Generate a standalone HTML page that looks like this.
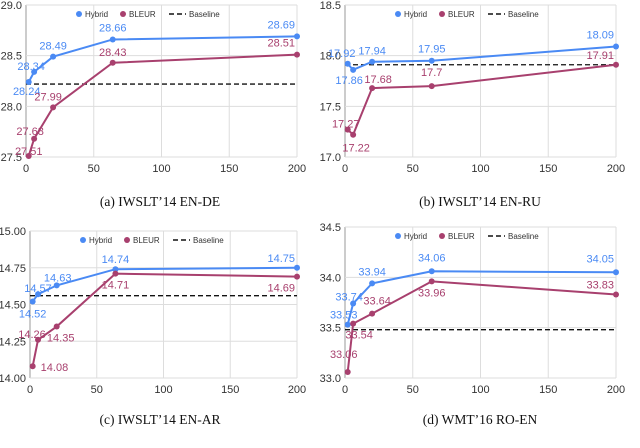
<!DOCTYPE html>
<html><head><meta charset="utf-8"><style>
body{margin:0;background:#fff;}
svg{display:block;font-family:"Liberation Sans",sans-serif;}
.cap{font-family:"Liberation Serif",serif;font-size:13.5px;fill:#111;}
</style></head><body>
<svg id="chart" width="640" height="448" viewBox="0 0 640 448"></svg>
<script>
const xValues=[2,6,20,64,200];
const xTicks=[0,50,100,150,200];
const panelTitles=["(a) IWSLT’14 EN-DE","(b) IWSLT’14 EN-RU","(c) IWSLT’14 EN-AR","(d) WMT’16 RO-EN"];
const hybridA=[28.24,28.34,28.49,28.66,28.69];
const bleurA=[27.51,27.68,27.99,28.43,28.51];
const baselineA=28.22;
const yTicksA=[27.5,28.0,28.5,29.0];
const hybridB=[17.92,17.86,17.94,17.95,18.09];
const bleurB=[17.27,17.22,17.68,17.7,17.91];
const baselineB=17.91;
const yTicksB=[17.0,17.5,18.0,18.5];
const hybridC=[14.52,14.57,14.63,14.74,14.75];
const bleurC=[14.08,14.26,14.35,14.71,14.69];
const baselineC=14.56;
const yTicksC=[14.0,14.25,14.5,14.75,15.0];
const hybridD=[33.53,33.74,33.94,34.06,34.05];
const bleurD=[33.06,33.54,33.64,33.96,33.83];
const baselineD=33.48;
const yTicksD=[33.0,33.5,34.0,34.5];
const yLabelsA=["27.5","28.0","28.5","29.0"];
const yLabelsB=["17.0","17.5","18.0","18.5"];
const yLabelsC=["14.00","14.25","14.50","14.75","15.00"];
const yLabelsD=["33.0","33.5","34.0","34.5"];

const svg=document.getElementById('chart');
const NS="http://www.w3.org/2000/svg";
function mk(tag,attrs,parent,name){const e=document.createElementNS(NS,tag);for(const k in attrs)e.setAttribute(k,attrs[k]);


parent.appendChild(e);return e;}
const BLUE="#4a8af4",RED="#a8406e";
const hOff=[
 [[-2,13,'middle'],[-3,-2,'middle'],[0,-7,'middle'],[0,-8,'middle'],[-2,-8,'end']],
 [[-6,-7,'middle'],[-4,14,'middle'],[0,-7,'middle'],[0,-8,'middle'],[-2,-8,'end']],
 [[0,16,'middle'],[0,-2,'middle'],[1,-4,'middle'],[0,-6,'middle'],[-2,-6,'end']],
 [[-4,-6,'middle'],[-4,-3,'middle'],[0,-8,'middle'],[0,-10,'middle'],[-2,-10,'end']]];
const bOff=[
 [[0,-1,'middle'],[-4,-4,'middle'],[-5,-7,'middle'],[0,-7,'middle'],[-2,-8,'end']],
 [[-2,-2,'middle'],[3,17,'middle'],[6,-5,'middle'],[0,-10,'middle'],[-2,-6,'end']],
 [[8,5,'start'],[-6,-2,'middle'],[4,15,'middle'],[0,15,'middle'],[-2,15,'end']],
 [[-4,-14,'middle'],[6,15,'middle'],[5,-9,'middle'],[0,15,'middle'],[-2,-6,'end']]];
const panels=[
 {ox:0,oy:0,L:26,R:297,T:5,B:157,h:hybridA,b:bleurA,base:baselineA,yt:yTicksA,yl:yLabelsA,ymin:27.5,ymax:29.0,capY:206},
 {ox:320,oy:0,L:25,R:296,T:5,B:157,h:hybridB,b:bleurB,base:baselineB,yt:yTicksB,yl:yLabelsB,ymin:17.0,ymax:18.5,capY:206},
 {ox:0,oy:224,L:30,R:297,T:7,B:154,h:hybridC,b:bleurC,base:baselineC,yt:yTicksC,yl:yLabelsC,ymin:14.0,ymax:15.0,capY:200},
 {ox:320,oy:224,L:25,R:296,T:3,B:154,h:hybridD,b:bleurD,base:baselineD,yt:yTicksD,yl:yLabelsD,ymin:33.0,ymax:34.5,capY:200}];
panels.forEach((p,i)=>{
 const g=mk('g',{transform:`translate(${p.ox},${p.oy})`},svg,'panel-'+i);
 const xs=v=>p.L+(v-0)/(200-0)*(p.R-p.L);
 const ys=v=>p.B-(v-p.ymin)/(p.ymax-p.ymin)*(p.B-p.T);
 xTicks.forEach(t=>{mk('line',{x1:xs(t),x2:xs(t),y1:p.T,y2:p.B,stroke:t==0?'#999':'#ddd','stroke-width':1},g,'x-grid');
  const tx=mk('text',{x:xs(t),y:p.B+15,'text-anchor':'middle','font-size':11,fill:'#333'},g,'x-tick-label');tx.textContent=t;});
 p.yt.forEach((t,j)=>{mk('line',{x1:p.L,x2:p.R,y1:ys(t),y2:ys(t),stroke:'#ddd','stroke-width':1},g,'y-grid');
  const tx=mk('text',{x:p.L-4,y:ys(t)+4,'text-anchor':'end','font-size':11,fill:'#333'},g,'y-tick-label');tx.textContent=p.yl[j];});
 mk('line',{x1:p.L,x2:p.R,y1:ys(p.base),y2:ys(p.base),stroke:'#111','stroke-width':1.3,'stroke-dasharray':'5,3'},g,'baseline-line');
 [[p.h,BLUE,'hybrid',hOff[i]],[p.b,RED,'bleur',bOff[i]]].forEach(([s,c,n,off])=>{
  mk('polyline',{points:s.map((v,k)=>xs(xValues[k])+','+ys(v)).join(' '),fill:'none',stroke:c,'stroke-width':2},g,n+'-line');
  s.forEach((v,k)=>{const cx=xs(xValues[k]),cy=ys(v);
   mk('circle',{cx:cx,cy:cy,r:3,fill:c},g,n+'-point');
   const o=off[k];const t=mk('text',{x:cx+o[0],y:cy+o[1],'text-anchor':o[2],'font-size':11,fill:c},g,n+'-value-label');t.textContent=v;});
 });
 const lx=p.L+53,ly=p.T+9;
 mk('circle',{cx:lx,cy:ly,r:3,fill:BLUE},g,'legend-hybrid-marker');
 let t=mk('text',{x:lx+6,y:ly+3,'font-size':8,fill:'#333'},g,'legend-hybrid');t.textContent='Hybrid';
 mk('circle',{cx:lx+44,cy:ly,r:3,fill:RED},g,'legend-bleur-marker');
 t=mk('text',{x:lx+50,y:ly+3,'font-size':8,fill:'#333'},g,'legend-bleur');t.textContent='BLEUR';
 mk('line',{x1:lx+90,x2:lx+107,y1:ly,y2:ly,stroke:'#111','stroke-width':1.5,'stroke-dasharray':'5,3'},g,'legend-baseline-marker');
 t=mk('text',{x:lx+110,y:ly+3,'font-size':8,fill:'#333'},g,'legend-baseline');t.textContent='Baseline';
 t=mk('text',{x:160,y:p.capY,'text-anchor':'middle',class:'cap'},g,'panel-caption');t.textContent=panelTitles[i];
});
</script>
</body></html>
